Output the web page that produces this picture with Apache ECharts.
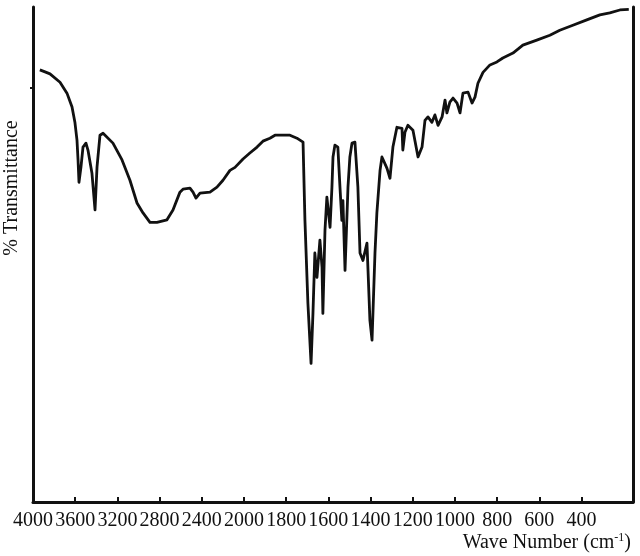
<!DOCTYPE html>
<html>
<head>
<meta charset="utf-8">
<script src="https://cdn.jsdelivr.net/npm/echarts@6/dist/echarts.min.js"></script>
<style>
  html, body { margin: 0; padding: 0; background: #fff; }
  #chart { width: 640px; height: 556px; }
</style>
</head>
<body>
<div id="chart"></div>
<script>
// wave numbers (cm-1), high to low
var waveNumbers = [
  3935, 3886, 3839, 3744, 3678, 3630, 3602, 3583, 3573, 3564,
  3545, 3526, 3498, 3479, 3441, 3412, 3393, 3365, 3336, 3242,
  3156, 3081, 3014, 2957, 2891, 2825, 2730, 2673, 2607, 2578,
  2512, 2483, 2455, 2417, 2322, 2256, 2199, 2133, 2085, 2009,
  1972, 1938, 1910, 1877, 1853, 1782, 1749, 1720, 1711, 1697,
  1682, 1673, 1664, 1654, 1640, 1630, 1626, 1616, 1607, 1592,
  1583, 1578, 1569, 1555, 1545, 1536, 1531, 1521, 1507, 1498,
  1488, 1474, 1460, 1450, 1436, 1417, 1412, 1403, 1393, 1379,
  1370, 1355, 1346, 1322, 1308, 1294, 1275, 1251, 1247, 1237,
  1223, 1199, 1175, 1156, 1142, 1128, 1109, 1095, 1080, 1061,
  1047, 1038, 1024, 1009, 990, 976, 962, 938, 919, 905,
  891, 867, 834, 801, 773, 725, 678, 612, 550, 503,
  441, 375, 313, 266, 218, 176
];
// % transmittance (arbitrary scale 0-100, bottom to top of the frame)
var transmittance = [
  87.3, 86.9, 86.5, 84.8, 82.6, 79.8, 76.6, 73.1, 69.1, 64.6,
  67.7, 71.7, 72.5, 71.1, 66.4, 59.0, 67.7, 74.1, 74.5, 72.5,
  69.1, 65.0, 60.4, 58.4, 56.5, 56.5, 57.0, 59.0, 62.6, 63.2,
  63.4, 62.6, 61.4, 62.4, 62.6, 63.6, 65.0, 67.0, 67.6, 69.3,
  70.5, 71.7, 72.9, 73.5, 74.1, 74.1, 73.5, 72.7, 56.9, 40.2,
  28.0, 38.1, 50.3, 45.4, 52.9, 47.4, 38.1, 54.9, 61.6, 55.5,
  63.6, 69.7, 72.1, 71.7, 63.6, 56.9, 60.9, 46.8, 63.6, 69.7,
  72.5, 72.7, 63.6, 50.3, 48.8, 52.3, 46.8, 36.7, 32.7, 50.3,
  58.4, 67.0, 69.7, 67.4, 65.4, 71.7, 75.7, 75.5, 71.1, 74.7,
  76.1, 75.1, 69.7, 71.7, 77.1, 77.8, 76.7, 78.2, 76.1, 77.8,
  81.2, 78.6, 80.8, 81.6, 80.6, 78.6, 82.6, 82.8, 80.6, 81.8,
  84.6, 86.8, 88.3, 88.9, 89.7, 90.7, 92.3, 93.3, 94.3, 95.3,
  96.3, 97.4, 98.4, 98.8, 99.4, 99.5
];
// tick labels: 400 steps down to 2000, then 200 steps (scale change at 2000)
var tickLabels = [4000, 3600, 3200, 2800, 2400, 2000, 1800, 1600, 1400, 1200, 1000, 800, 600, 400];

// the instrument chart changes scale at 2000 cm-1, so map wave number to an even tick position
function toPos(w) {
  return w >= 2000 ? (4000 - w) / 400 : 5 + (2000 - w) / 200;
}

var tickPos = tickLabels.map(toPos);

var chart = echarts.init(document.getElementById('chart'));

chart.setOption({
  animation: false,
  backgroundColor: '#fff',
  grid: {
    left: 33,
    right: 7,
    top: 7,
    bottom: 54
  },
  xAxis: {
    type: 'value',
    min: 0,
    max: 14.22,
    interval: 1,
    axisLine: {
      show: true,
      onZero: false,
      lineStyle: {color: '#111', width: 3}
    },
    axisTick: {
      show: true,
      inside: true,
      length: 5,
      customValues: tickPos,
      lineStyle: {color: '#111', width: 2}
    },
    axisLabel: {
      customValues: tickPos,
      color: '#111',
      fontFamily: 'Liberation Serif',
      fontSize: 20,
      margin: 9,
      formatter: function (v) {
        var i = tickPos.indexOf(v);
        return i >= 0 ? String(tickLabels[i]) : '';
      }
    },
    splitLine: {show: false}
  },
  yAxis: [{
    type: 'value',
    min: 0,
    max: 100,
    axisLine: {
      show: true,
      onZero: false,
      lineStyle: {color: '#111', width: 3}
    },
    axisTick: {
      show: true,
      length: 3,
      customValues: [83.6],
      lineStyle: {color: '#111', width: 2}
    },
    axisLabel: {show: false},
    splitLine: {show: false}
  }, {
    type: 'value',
    position: 'right',
    min: 0,
    max: 100,
    axisLine: {
      show: true,
      onZero: false,
      lineStyle: {color: '#111', width: 3}
    },
    axisTick: {show: false},
    axisLabel: {show: false},
    splitLine: {show: false}
  }],
  graphic: [{
    type: 'text',
    x: 12,
    y: 188,
    rotation: Math.PI / 2,
    style: {
      text: '% Transmittance',
      fill: '#111',
      font: '20px "Liberation Serif"',
      align: 'center',
      verticalAlign: 'middle'
    }
  }, {
    type: 'text',
    x: 631,
    y: 543,
    style: {
      text: '{a|Wave Number (cm}{s|-1}{a|)}',
      fill: '#111',
      align: 'right',
      verticalAlign: 'middle',
      rich: {
        a: {fontFamily: 'Liberation Serif', fontSize: 20, color: '#111', lineHeight: 22},
        s: {fontFamily: 'Liberation Serif', fontSize: 12, color: '#111', verticalAlign: 'top', lineHeight: 22, padding: [0, 0, 8, 0]}
      }
    }
  }],
  series: [{
    type: 'line',
    showSymbol: false,
    data: waveNumbers.map(function (w, i) {
      return [toPos(w), transmittance[i]];
    }),
    lineStyle: {color: '#111', width: 2.8, join: 'round'}
  }]
});
</script>
</body>
</html>
